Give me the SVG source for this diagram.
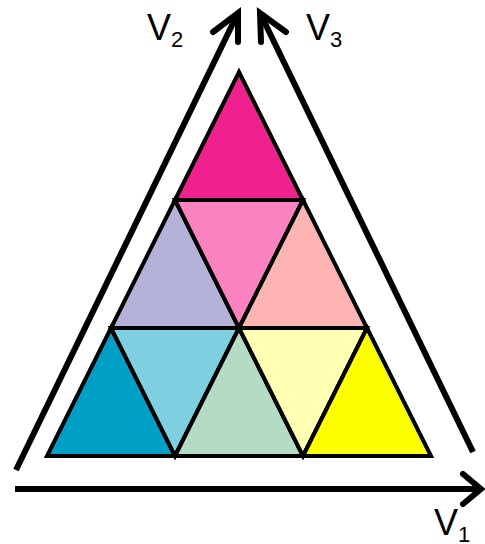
<svg xmlns="http://www.w3.org/2000/svg" width="485" height="544" viewBox="0 0 485 544">
<style>
.t{stroke:#000;stroke-width:4;stroke-linejoin:miter}
.ax{stroke:#000;stroke-width:6;fill:none;stroke-linecap:butt}
.hd{stroke:#000;stroke-width:6;fill:none;stroke-linecap:round;stroke-linejoin:miter}
.lb{font-family:"Liberation Sans",Arial,sans-serif;fill:#000}
</style>
<rect width="485" height="544" fill="#fff"/>
<g id="tri1"><polygon class="t" fill="#F0208E" points="239,72 303,200 175,200"/></g>
<g id="tri2"><polygon class="t" fill="#B4B2D8" points="175,200 239,328 111,328"/></g>
<g id="tri3"><polygon class="t" fill="#F883C0" points="175,200 303,200 239,328"/></g>
<g id="tri4"><polygon class="t" fill="#FFB4B4" points="303,200 367,328 239,328"/></g>
<g id="tri5"><polygon class="t" fill="#00A0C6" points="111,328 175,456 47,456"/></g>
<g id="tri6"><polygon class="t" fill="#7ECFE0" points="111,328 239,328 175,456"/></g>
<g id="tri7"><polygon class="t" fill="#B4DCC4" points="239,328 303,456 175,456"/></g>
<g id="tri8"><polygon class="t" fill="#FFFFB4" points="239,328 367,328 303,456"/></g>
<g id="tri9"><polygon class="t" fill="#FFFF00" points="367,328 431,456 303,456"/></g>
<g id="connectors">
<g id="axisV1"><line class="ax" x1="15" y1="489" x2="480" y2="489"/><polyline class="hd" points="463,474 481,489 463,504"/></g>
<g id="axisV2"><line class="ax" x1="16" y1="470" x2="237" y2="15"/><polyline class="hd" points="213,32 238,13 238,42"/></g>
<g id="axisV3"><line class="ax" x1="473" y1="452" x2="261" y2="15"/><polyline class="hd" points="286,32 260,13 261,42"/></g>
</g>
<g id="labels">
<text class="lb" x="147" y="40" font-size="36">V<tspan font-size="22" dy="7">2</tspan></text>
<text class="lb" x="306" y="40" font-size="36">V<tspan font-size="22" dy="7">3</tspan></text>
<text class="lb" x="434" y="535" font-size="36">V<tspan font-size="22" dy="7">1</tspan></text>
</g>
</svg>
